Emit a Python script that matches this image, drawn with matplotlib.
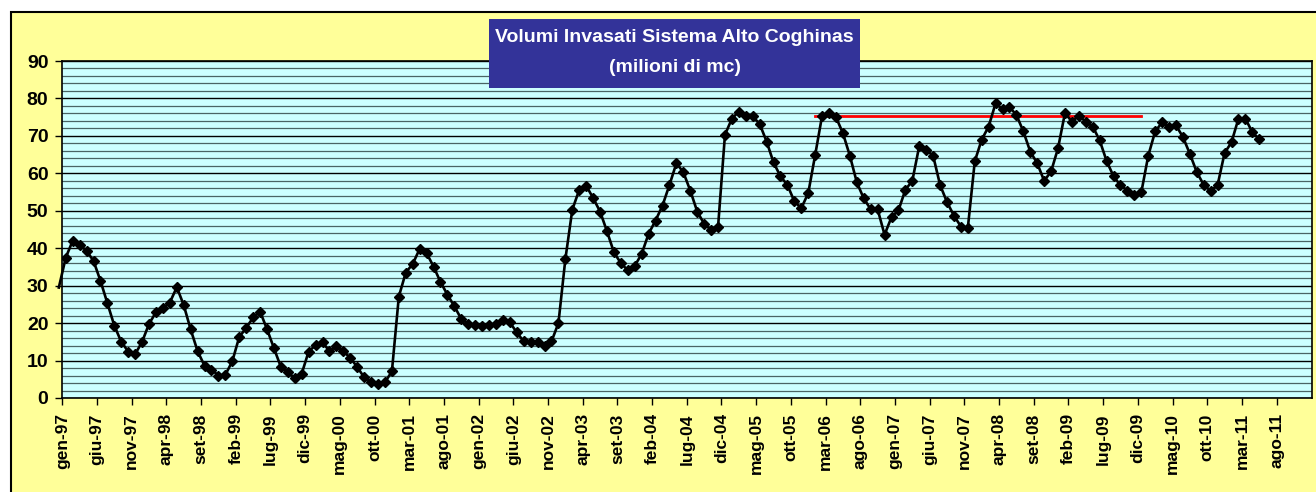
import matplotlib
matplotlib.use("Agg")
import matplotlib.pyplot as plt
import matplotlib.transforms as mtrans
from matplotlib.patches import Rectangle
import numpy as np

# ── data : monthly stored volume (milioni di mc), dic-96 .. mag-11 ──────────

vol_1996 = [29.5]
vol_1997 = [37.5, 42.0, 40.9, 39.3, 36.6, 31.3, 25.3, 19.3, 15.0, 12.4, 11.7, 15.0]
vol_1998 = [19.8, 22.9, 24.0, 25.5, 29.6, 24.8, 18.3, 12.5, 8.6, 7.6, 6.0, 6.2]
vol_1999 = [9.8, 16.3, 18.7, 21.5, 23.1, 18.4, 13.3, 8.3, 6.9, 5.3, 6.5, 12.4]
vol_2000 = [14.1, 14.9, 12.5, 13.8, 12.5, 10.7, 8.3, 5.5, 4.4, 3.8, 4.2, 7.1]
vol_2001 = [27.1, 33.5, 35.8, 39.8, 38.7, 35.1, 31.0, 27.6, 24.5, 21.1, 19.8, 19.4]
vol_2002 = [19.1, 19.4, 19.8, 20.9, 20.2, 17.5, 15.1, 14.9, 14.9, 13.8, 15.1, 20.0]
vol_2003 = [37.1, 50.3, 55.6, 56.7, 53.4, 49.8, 44.5, 38.9, 36.0, 34.1, 35.3, 38.5]
vol_2004 = [43.9, 47.4, 51.4, 56.9, 62.7, 60.3, 55.4, 49.8, 46.5, 44.9, 45.6, 70.3]
vol_2005 = [74.6, 76.5, 75.2, 75.2, 73.2, 68.5, 62.9, 59.2, 56.9, 52.5, 50.7, 54.7]
vol_2006 = [64.9, 75.4, 76.2, 75.0, 70.7, 64.7, 57.6, 53.3, 50.4, 50.4, 43.6, 48.3]
vol_2007 = [50.1, 55.6, 58.0, 67.3, 66.3, 64.7, 56.9, 52.3, 48.7, 45.8, 45.4, 63.2]
vol_2008 = [69.0, 72.5, 78.7, 77.1, 77.7, 75.6, 71.2, 65.8, 62.7, 58.0, 60.5, 66.7]
vol_2009 = [76.1, 73.8, 75.4, 73.8, 72.5, 68.8, 63.3, 59.2, 56.8, 55.4, 54.3, 54.9]
vol_2010 = [64.7, 71.2, 73.6, 72.3, 72.8, 69.7, 65.2, 60.3, 56.9, 55.3, 56.9, 65.4]
vol_2011 = [68.3, 74.6, 74.6, 71.0, 69.1]

# reference level (red line), month index from gen-97
ref_level = 75.3
ref_start = 108   # gen-06
ref_end   = 155   # dic-09

tick_labels = ["gen-97", "giu-97", "nov-97", "apr-98", "set-98", "feb-99",
               "lug-99", "dic-99", "mag-00", "ott-00", "mar-01", "ago-01",
               "gen-02", "giu-02", "nov-02", "apr-03", "set-03", "feb-04",
               "lug-04", "dic-04", "mag-05", "ott-05", "mar-06", "ago-06",
               "gen-07", "giu-07", "nov-07", "apr-08", "set-08", "feb-09",
               "lug-09", "dic-09", "mag-10", "ott-10", "mar-11", "ago-11"]

# ── style ────────────────────────────────────────────────────────────────────

YELLOW = "#FFFF99"
CYAN   = "#CCFFFF"
NAVY   = "#333399"
FONT   = "Liberation Sans"

values = np.array(vol_1996 + vol_1997 + vol_1998 + vol_1999 + vol_2000 +
                  vol_2001 + vol_2002 + vol_2003 + vol_2004 + vol_2005 +
                  vol_2006 + vol_2007 + vol_2008 + vol_2009 + vol_2010 +
                  vol_2011)
months = np.arange(len(values)) - 1 + 0.5   # mid-month, dic-96 = -0.5

W, H = 1316, 492
fig = plt.figure(figsize=(W / 100, H / 100), dpi=100)
fig.patch.set_facecolor("white")

# yellow chart area with black frame
fig.add_artist(Rectangle((11 / W, -0.05), 1.1, 1 - 12 / H + 0.05,
                         transform=fig.transFigure, facecolor=YELLOW,
                         edgecolor="black", linewidth=1.5, zorder=-5))

ax = fig.add_axes([62.3 / W, 94 / H, (1312 - 62.3) / W, 337 / H])
ax.set_facecolor(CYAN)

ax.set_ylim(0, 90)
ax.set_xlim(0, 180.1)
ax.set_yticks(np.arange(0, 91, 10))
ax.set_yticks(np.arange(0, 91, 2), minor=True)
ax.grid(axis="y", which="minor", color="#4a6464", linewidth=0.9, zorder=0)
ax.grid(axis="y", which="major", color="black", linewidth=1.0, zorder=0)
ax.set_axisbelow(True)

ax.set_xticks(np.arange(0, 5 * len(tick_labels), 5))
ax.set_xticklabels(tick_labels, rotation=90, fontsize=12.5,
                   fontweight="bold", family=FONT)
offset = mtrans.ScaledTranslation(6 / 100, 0, fig.dpi_scale_trans)
for lbl in ax.get_xticklabels():
    lbl.set_transform(lbl.get_transform() + offset)

for lbl in ax.get_yticklabels():
    lbl.set_fontsize(14)
    lbl.set_fontweight("bold")
    lbl.set_family(FONT)

ax.tick_params(axis="y", which="major", length=5, width=1, pad=5)
ax.tick_params(axis="y", which="minor", length=0)
ax.tick_params(axis="x", length=5, width=1, pad=6)
for s in ax.spines.values():
    s.set_color("black")
    s.set_linewidth(1.2)

# reference line
ax.plot([ref_start + 0.5, ref_end + 0.5], [ref_level, ref_level],
        color="red", linewidth=2, zorder=3)

# series
ax.plot(months, values, color="black", linewidth=1.9, clip_on=False,
        zorder=4)
ax.plot(months[1:], values[1:], linestyle="none", marker="D",
        markersize=5.5, color="black", zorder=5)

# title box
fig.add_artist(Rectangle((489.3 / W, 1 - 88 / H), (860 - 489.3) / W, 69 / H,
                         transform=fig.transFigure, facecolor=NAVY,
                         edgecolor="none", zorder=10))
cx = (489.3 + 860) / 2 / W
fig.text(cx, 1 - 37.5 / H, "Volumi Invasati Sistema Alto Coghinas",
         ha="center", va="center", color="white", fontsize=14,
         fontweight="bold", family=FONT, zorder=11)
fig.text(cx, 1 - 67.5 / H, "(milioni di mc)",
         ha="center", va="center", color="white", fontsize=14,
         fontweight="bold", family=FONT, zorder=11)

fig.savefig("out.png", dpi=100, facecolor=fig.get_facecolor())
